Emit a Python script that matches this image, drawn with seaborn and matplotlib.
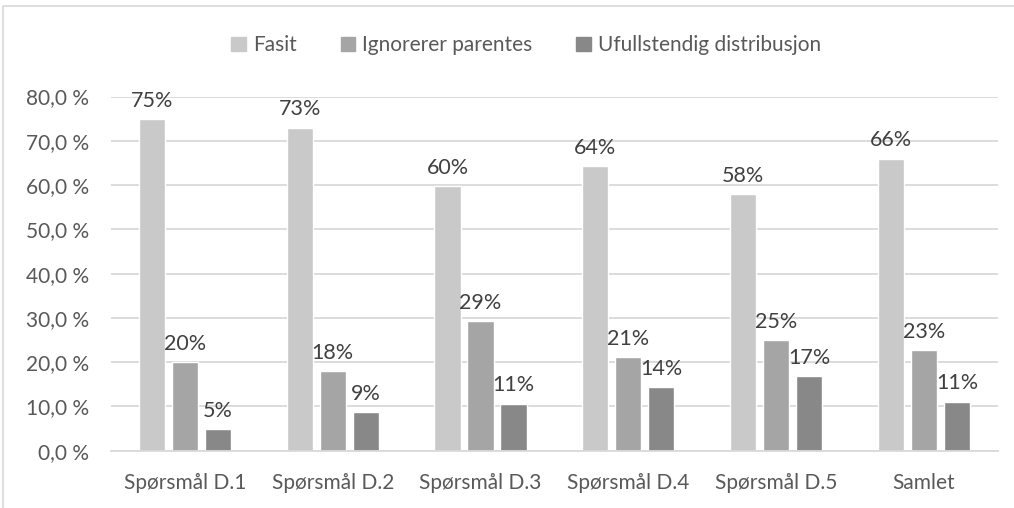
import numpy as np
import pandas as pd
import matplotlib
matplotlib.use("Agg")
import matplotlib.pyplot as plt
import seaborn as sns
from matplotlib.patches import Rectangle
from matplotlib.ticker import FuncFormatter

# Data
categories = ["Spørsmål D.1", "Spørsmål D.2", "Spørsmål D.3",
              "Spørsmål D.4", "Spørsmål D.5", "Samlet"]
series = ["Fasit", "Ignorerer parentes", "Ufullstendig distribusjon"]
fasit = [74.9, 73.0, 59.8, 64.3, 58.0, 66.0]
ignorerer = [20.0, 18.0, 29.3, 21.2, 25.0, 22.7]
ufullstendig = [4.9, 8.7, 10.6, 14.3, 16.9, 11.1]
colors = ["#C9C9C9", "#A5A5A5", "#888888"]

df = pd.DataFrame({
    "Kategori": categories * 3,
    "Serie": [series[0]] * 6 + [series[1]] * 6 + [series[2]] * 6,
    "Verdi": fasit + ignorerer + ufullstendig,
})

sns.set_theme(style="white")
plt.rcParams["font.family"] = ["Lato", "DejaVu Sans"]

fig = plt.figure(figsize=(10.14, 5.08), dpi=100)
ax = fig.add_axes([0.1095, 0.1128, 0.8745, 0.6972])

sns.barplot(data=df, x="Kategori", y="Verdi", hue="Serie", palette=colors,
            width=0.67, gap=0.21, ax=ax, legend=True, saturation=1)

# Data labels
for cont in ax.containers:
    vals = [b.get_height() for b in cont]
    ax.bar_label(cont, labels=[f"{round(v):.0f}%" for v in vals],
                 padding=6, fontsize=15.5, color="#404040")

ax.set_ylim(0, 80)
ax.set_xlim(-0.5, 5.5)
ax.set_yticks(np.arange(0, 81, 10))
ax.yaxis.set_major_formatter(FuncFormatter(lambda v, p: f"{v:.1f} %".replace(".", ",")))
ax.grid(axis="y", color="#D9D9D9", linewidth=1.3)
ax.set_axisbelow(True)
for s in ["top", "right", "left"]:
    ax.spines[s].set_visible(False)
ax.spines["bottom"].set_color("#D9D9D9")
ax.spines["bottom"].set_linewidth(1.3)
ax.tick_params(axis="both", length=0, labelsize=15, colors="#595959")
ax.tick_params(axis="x", pad=16)
ax.tick_params(axis="y", pad=16)
ax.set_xlabel("")
ax.set_ylabel("")

ax.get_legend().remove()
handles = [Rectangle((0, 0), 1, 1, color=c) for c in colors]
fig.legend(handles, series, loc="center", bbox_to_anchor=(0.519, 0.911), ncol=3,
           frameon=False, fontsize=15, handlelength=0.7, handleheight=0.7,
           handletextpad=0.35, columnspacing=2.1, labelcolor="#595959")

# chart border
fig.patches.append(Rectangle((3 / 1014, -0.1), 1.1, 1 - 6 / 508 + 0.1,
                             transform=fig.transFigure, fill=False,
                             edgecolor="#D9D9D9", linewidth=1.2))

fig.savefig("out.png", dpi=100)
